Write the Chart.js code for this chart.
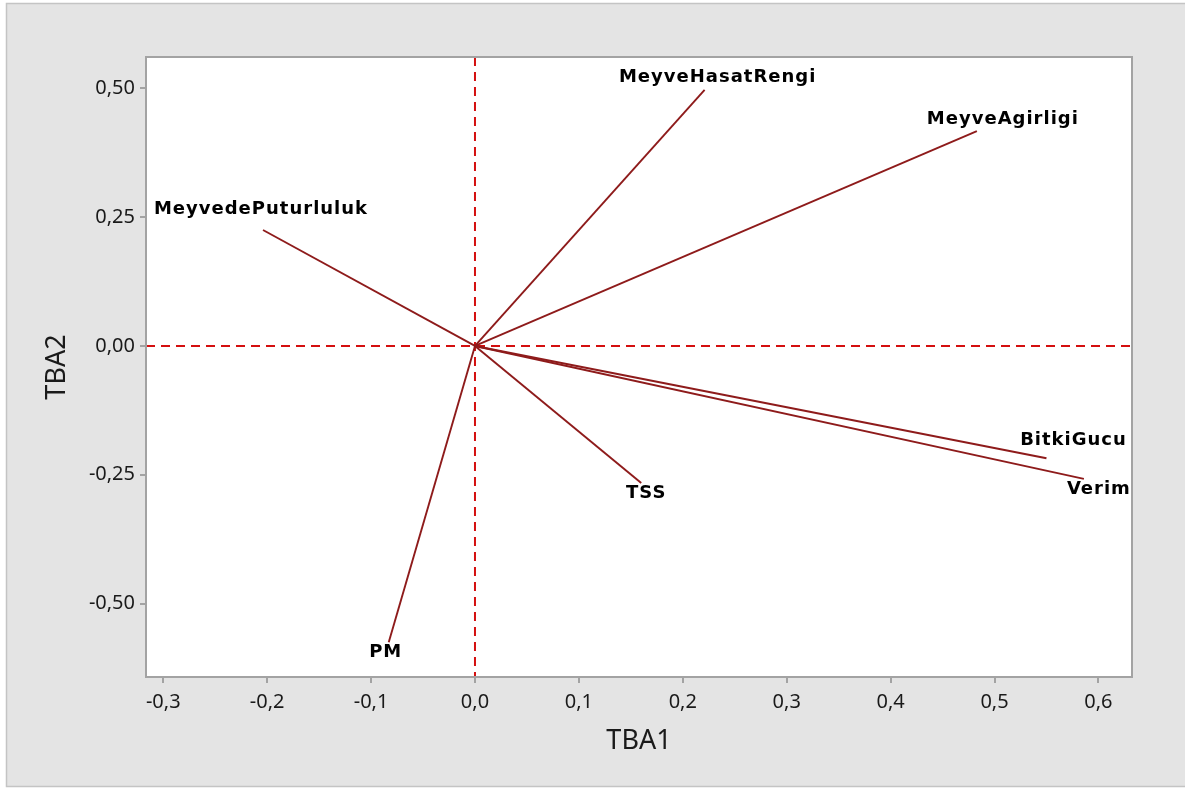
<!DOCTYPE html>
<html><head><meta charset="utf-8">
<script src="https://cdn.jsdelivr.net/npm/chart.js@4.4.0/dist/chart.umd.min.js"></script>
<style>html,body{margin:0;padding:0;background:#fff}#wrap{width:1185px;height:789px;position:relative}</style>
</head><body><div id="wrap"><canvas id="c" width="1185" height="789"></canvas></div>
<script>
// ---- data ----
const variables = ['MeyveHasatRengi', 'MeyveAgirligi', 'MeyvedePuturluluk', 'BitkiGucu', 'Verim', 'TSS', 'PM'];
const tba1 = [0.221, 0.483, -0.204, 0.550, 0.586, 0.160, -0.083];
const tba2 = [0.497, 0.417, 0.225, -0.218, -0.258, -0.266, -0.575];
const xTicks = [-0.3, -0.2, -0.1, 0.0, 0.1, 0.2, 0.3, 0.4, 0.5, 0.6];
const yTicks = [-0.50, -0.25, 0.00, 0.25, 0.50];
const xTitle = 'TBA1';
const yTitle = 'TBA2';

// ---- styling / label placement (pixels) ----
const labelOffset = {
  MeyveHasatRengi: [13, -13],
  MeyveAgirligi: [26, -12],
  MeyvedePuturluluk: [-2, -21],
  BitkiGucu: [27, -18],
  Verim: [15, 10],
  TSS: [5, 10],
  PM: [-3, 10]
};
const vecColor = '#8e1b1b';
const refColor = '#d40f0f';
const axisGray = '#a3a3a3';

function fmt(v, d) {
  if (Math.abs(v) < 1e-9) v = 0;
  return v.toFixed(d).replace('.', ',');
}

const datasets = variables.map((name, i) => ({
  label: name,
  data: [{x: 0, y: 0}, {x: tba1[i], y: tba2[i]}],
  showLine: true,
  borderColor: vecColor,
  borderWidth: 1.9,
  pointRadius: 0,
  fill: false,
  clip: false
}));

const framePlugin = {
  id: 'frame',
  beforeDraw(chart) {
    const ctx = chart.ctx, a = chart.chartArea;
    ctx.save();
    ctx.fillStyle = '#ffffff';
    ctx.fillRect(0, 0, chart.width, chart.height);
    ctx.fillStyle = '#e4e4e4';
    ctx.fillRect(6, 3, chart.width - 6, 784);
    ctx.strokeStyle = '#c4c4c4';
    ctx.lineWidth = 1.5;
    ctx.strokeRect(6.5, 3.5, chart.width, 783);
    ctx.fillStyle = '#ffffff';
    ctx.fillRect(a.left, a.top, a.right - a.left, a.bottom - a.top);
    ctx.restore();
  },
  beforeDatasetsDraw(chart) {
    const ctx = chart.ctx, a = chart.chartArea;
    const x0 = chart.scales.x.getPixelForValue(0);
    const y0 = chart.scales.y.getPixelForValue(0);
    ctx.save();
    ctx.strokeStyle = refColor;
    ctx.lineWidth = 2;
    ctx.setLineDash([9, 6]);
    ctx.beginPath();
    ctx.moveTo(x0, a.top); ctx.lineTo(x0, a.bottom);
    ctx.moveTo(a.left, y0); ctx.lineTo(a.right, y0);
    ctx.stroke();
    ctx.restore();
  },
  afterDatasetsDraw(chart) {
    const ctx = chart.ctx;
    const sx = chart.scales.x, sy = chart.scales.y;
    ctx.save();
    ctx.font = 'bold 18px "DejaVu Sans"';
    try { ctx.letterSpacing = '1px'; } catch (e) {}
    ctx.fillStyle = '#000000';
    ctx.textAlign = 'center';
    ctx.textBaseline = 'middle';
    variables.forEach((name, i) => {
      const off = labelOffset[name];
      ctx.fillText(name, sx.getPixelForValue(tba1[i]) + off[0], sy.getPixelForValue(tba2[i]) + off[1]);
    });
    ctx.restore();
  },
  afterDraw(chart) {
    const ctx = chart.ctx, a = chart.chartArea;
    ctx.save();
    ctx.strokeStyle = axisGray;
    ctx.lineWidth = 2;
    ctx.strokeRect(a.left, a.top, a.right - a.left, a.bottom - a.top);
    ctx.restore();
  }
};

new Chart(document.getElementById('c'), {
  type: 'scatter',
  data: {datasets},
  options: {
    responsive: false,
    animation: false,
    devicePixelRatio: 1,
    layout: {padding: {top: 57, right: 53, left: 0, bottom: 0}},
    plugins: {legend: {display: false}, tooltip: {enabled: false}},
    scales: {
      x: {
        type: 'linear', min: -0.3166, max: 0.6323,
        afterBuildTicks: s => { s.ticks = xTicks.map(v => ({value: v})); },
        afterFit: s => { s.height = 112; },
        ticks: {callback: v => fmt(v, 1), font: {family: 'Noto Sans', size: 20}, color: '#1a1a1a', padding: 7, maxRotation: 0, autoSkip: false},
        grid: {drawOnChartArea: false, drawTicks: true, tickLength: 6, color: axisGray, lineWidth: 2},
        border: {display: true, color: axisGray, width: 2},
        title: {display: true, text: xTitle, font: {family: 'Noto Sans', size: 27}, color: '#1a1a1a', padding: {top: 0, bottom: 31}}
      },
      y: {
        type: 'linear', min: -0.6425, max: 0.5608,
        afterBuildTicks: s => { s.ticks = yTicks.map(v => ({value: v})); },
        afterFit: s => { s.width = 146; },
        ticks: {callback: v => fmt(v, 2), font: {family: 'Noto Sans', size: 20}, color: '#1a1a1a', padding: 5, autoSkip: false},
        grid: {drawOnChartArea: false, drawTicks: true, tickLength: 6, color: axisGray, lineWidth: 2},
        border: {display: true, color: axisGray, width: 2},
        title: {display: true, text: yTitle, font: {family: 'Noto Sans', size: 27}, color: '#1a1a1a', padding: {top: 41, bottom: 0}}
      }
    }
  },
  plugins: [framePlugin]
});
</script>
</body></html>
